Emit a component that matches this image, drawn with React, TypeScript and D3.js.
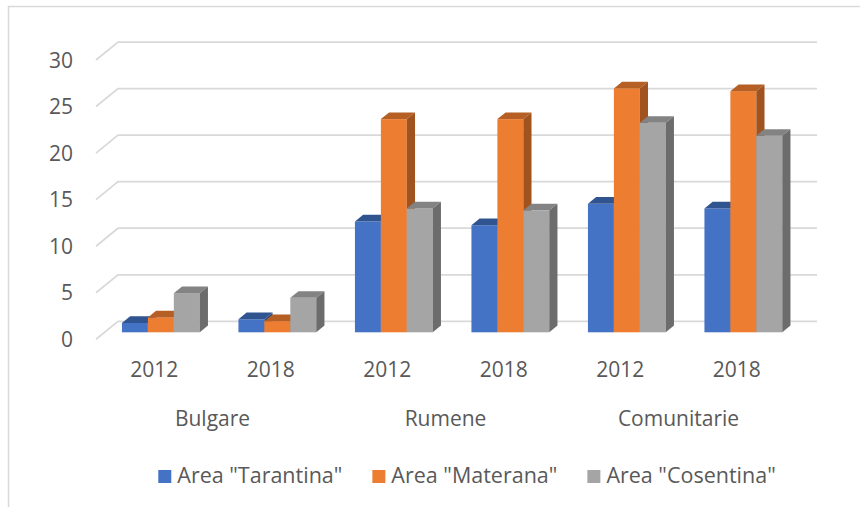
import { useEffect, useRef } from "react";
import * as d3 from "d3";

const groups = ["Bulgare", "Rumene", "Comunitarie"];
const years = ["2012", "2018"];
const seriesNames = ['Area "Tarantina"', 'Area "Materana"', 'Area "Cosentina"'];
const tarantina = [1.0, 1.4, 11.9, 11.5, 13.8, 13.3];
const materana = [1.6, 1.2, 22.9, 22.9, 26.2, 25.9];
const cosentina = [4.2, 3.7, 13.3, 13.1, 22.5, 21.1];
const yTicks = [0, 5, 10, 15, 20, 25, 30];

const colors = ["#4472C4", "#ED7D31", "#A5A5A5"];
const topColors = ["#30548F", "#B65F24", "#838383"];
const sideColors = ["#2A4A80", "#A1531F", "#6C6C6C"];

const W = 860;
const H = 507;

export default function App() {
  const ref = useRef<SVGSVGElement | null>(null);

  useEffect(() => {
    if (!ref.current) return;
    const svg = d3.select(ref.current);
    svg.selectAll("*").remove();

    const font = "'Open Sans', sans-serif";
    const textColor = "#595959";

    // 3d wall offset (front plane -> back wall)
    const depthX = 22;
    const depthY = -18;
    // bar front face offset from the front plane, and bar depth
    const barOffX = 8.6;
    const barOffY = -7;
    const barDepthX = 8.2;
    const barDepthY = -6.7;

    const plotLeft = 96;
    const plotRight = 795;

    const y = d3.scaleLinear([0, 30], [339.3, 60]);

    const slots = groups.flatMap((g) => years.map((yr) => `${g}-${yr}`));
    const x = d3
      .scaleBand<string>()
      .domain(slots)
      .range([plotLeft - 2, plotRight - 2])
      .paddingInner(0.332)
      .paddingOuter(0.166);
    const xLabel = d3.scaleBand<string>().domain(slots).range([plotLeft, plotRight]);
    const xSub = d3
      .scaleBand<number>()
      .domain([0, 1, 2])
      .range([0, x.bandwidth()]);

    // frame
    svg
      .append("path")
      .attr("d", `M8.5,${H} L8.5,6.5 L${W},6.5`)
      .attr("fill", "none")
      .attr("stroke", "#d9d9d9")
      .attr("stroke-width", 1.5);

    // bits of the text line above the chart (cut off in the original too)
    svg
      .selectAll("text.cut")
      .data([
        { t: "(", x: 86 },
        { t: ")", x: 266 },
      ])
      .join("text")
      .attr("x", (d) => d.x)
      .attr("y", -3)
      .attr("font-family", font)
      .attr("font-size", 21)
      .attr("fill", "#404040")
      .text((d) => d.t);

    // gridlines with their slanted front part
    svg
      .append("g")
      .selectAll("path")
      .data(yTicks)
      .join("path")
      .attr(
        "d",
        (v) =>
          `M${plotLeft},${y(v)} L${plotLeft + depthX},${y(v) + depthY} L${plotRight + depthX},${y(v) + depthY}`
      )
      .attr("fill", "none")
      .attr("stroke", "#d9d9d9")
      .attr("stroke-width", 1.75);

    // y labels
    svg
      .append("g")
      .selectAll("text")
      .data(yTicks)
      .join("text")
      .attr("x", 73)
      .attr("y", (v) => y(v) + 7.5)
      .attr("text-anchor", "end")
      .attr("font-family", font)
      .attr("font-size", 21)
      .attr("fill", textColor)
      .text((v) => v);

    // bars
    const series = [tarantina, materana, cosentina];
    const bars = svg.append("g");
    slots.forEach((slot, i) => {
      series.forEach((vals, s) => {
        const x0 = (x(slot) ?? 0) + (xSub(s) ?? 0) + barOffX;
        const w = xSub.bandwidth();
        const yb = y(0) + barOffY;
        const yt = y(vals[i]) + barOffY;
        const g = bars.append("g");
        g.append("rect")
          .attr("x", x0)
          .attr("y", yt)
          .attr("width", w)
          .attr("height", yb - yt)
          .attr("fill", colors[s]);
        g.append("path")
          .attr(
            "d",
            `M${x0},${yt} L${x0 + barDepthX},${yt + barDepthY} L${x0 + w + barDepthX},${yt + barDepthY} L${x0 + w},${yt} Z`
          )
          .attr("fill", topColors[s]);
        g.append("path")
          .attr(
            "d",
            `M${x0 + w},${yt} L${x0 + w + barDepthX},${yt + barDepthY} L${x0 + w + barDepthX},${yb + barDepthY} L${x0 + w},${yb} Z`
          )
          .attr("fill", sideColors[s]);
      });
    });

    // year labels
    svg
      .append("g")
      .selectAll("text")
      .data(slots)
      .join("text")
      .attr("x", (d) => (xLabel(d) ?? 0) + xLabel.bandwidth() / 2)
      .attr("y", 376.5)
      .attr("text-anchor", "middle")
      .attr("font-family", font)
      .attr("font-size", 21)
      .attr("fill", textColor)
      .text((d) => d.split("-")[1]);

    // group labels
    svg
      .append("g")
      .selectAll("text")
      .data(groups)
      .join("text")
      .attr("x", (g) => (xLabel(`${g}-2018`) ?? 0))
      .attr("y", 425.5)
      .attr("text-anchor", "middle")
      .attr("font-family", font)
      .attr("font-size", 21)
      .attr("fill", textColor)
      .text((g) => g);

    // legend
    const legend = svg.append("g");
    const items = seriesNames.map((name, i) => {
      const item = legend.append("g");
      item
        .append("rect")
        .attr("x", 0)
        .attr("y", 470)
        .attr("width", 13)
        .attr("height", 13)
        .attr("fill", colors[i]);
      const t = item
        .append("text")
        .attr("x", 19)
        .attr("y", 483)
        .attr("font-family", font)
        .attr("font-size", 21.5)
        .attr("fill", textColor)
        .text(name);
      const len = (t.node() as SVGTextElement).getComputedTextLength();
      return { item, width: 19 + len };
    });
    const gap = 30;
    const total = d3.sum(items, (d) => d.width) + gap * (items.length - 1);
    let cx = 467 - total / 2;
    items.forEach((d) => {
      d.item.attr("transform", `translate(${cx},0)`);
      cx += d.width + gap;
    });
  }, []);

  return (
    <svg
      ref={ref}
      width={W}
      height={H}
      style={{ position: "absolute", left: 0, top: 0, background: "#fff" }}
    />
  );
}
